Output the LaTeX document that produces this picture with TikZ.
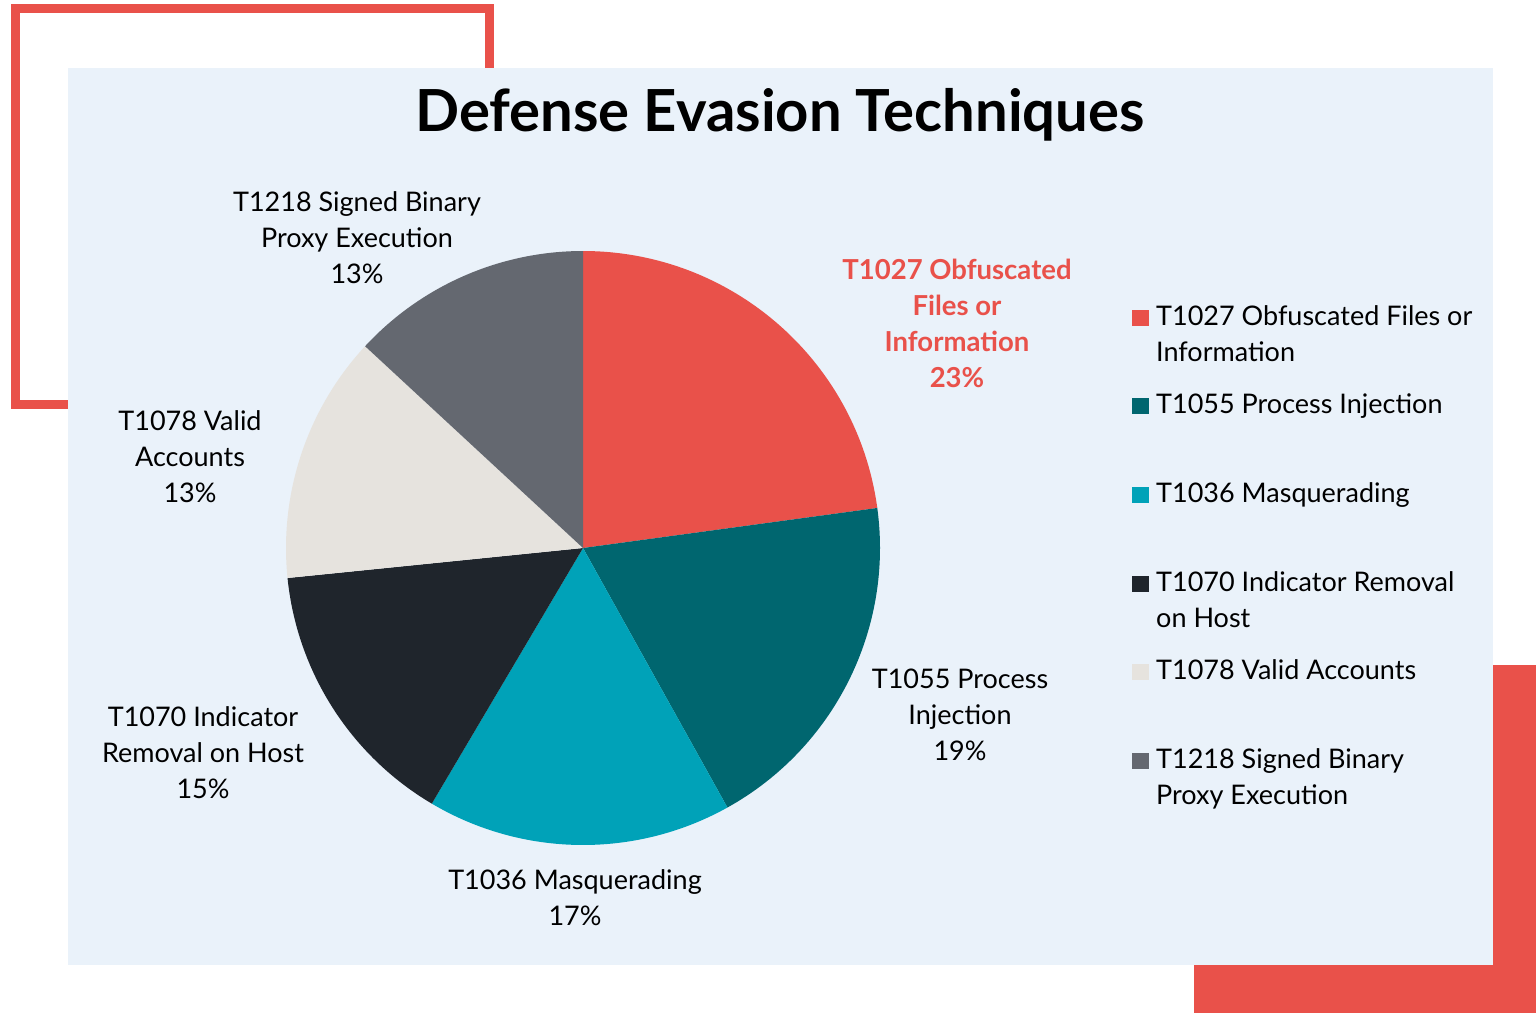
\documentclass[tikz,border=0pt]{standalone}
\usepackage{fontspec}
\setmainfont{Lato}
\definecolor{brandred}{HTML}{E9514A}
\definecolor{panelbg}{HTML}{EAF2FA}
\definecolor{cteal}{HTML}{00666F}
\definecolor{ccyan}{HTML}{00A2B8}
\definecolor{cdark}{HTML}{1F252C}
\definecolor{clight}{HTML}{E6E3DE}
\definecolor{cgray}{HTML}{646870}
\begin{document}
\begin{tikzpicture}[x=1pt,y=-1pt,
  lbl/.style={font=\fontsize{27}{36}\selectfont, align=center, anchor=base, inner sep=0pt, text=black},
  redlbl/.style={font=\fontsize{27.5}{36}\selectfont\bfseries, align=center, anchor=base, inner sep=0pt, text=brandred},
  legtext/.style={font=\fontsize{27}{36}\selectfont, align=left, anchor=base west, inner sep=0pt, text=black},
  legsq/.style={minimum width=17pt, minimum height=16pt, inner sep=0pt, anchor=south west}]
\useasboundingbox (0,0) rectangle (1536,1013);
\fill[white] (0,0) rectangle (1536,1013);
% decorative frames
\draw[brandred, line width=9pt] (15.5,8.5) rectangle (489.5,404.5);
\fill[brandred] (1194,665) rectangle (1536,1013);
\fill[panelbg] (68,68) rectangle (1493,965);
% title
\node[font=\fontsize{58}{66}\selectfont\bfseries, anchor=base, inner sep=0pt] (title) at (780,131) {Defense Evasion Techniques};
% pie
\coordinate (ctr) at (583,548);
\fill[brandred] (ctr) -- ++(90:297pt) arc[start angle=90, end angle=7.75, radius=297pt] -- cycle;
\fill[cteal] (ctr) -- ++(7.75:297pt) arc[start angle=7.75, end angle=-60.9, radius=297pt] -- cycle;
\fill[ccyan] (ctr) -- ++(-60.9:297pt) arc[start angle=-60.9, end angle=-120.6, radius=297pt] -- cycle;
\fill[cdark] (ctr) -- ++(-120.6:297pt) arc[start angle=-120.6, end angle=-174.2, radius=297pt] -- cycle;
\fill[clight] (ctr) -- ++(-174.2:297pt) arc[start angle=-174.2, end angle=-222.8, radius=297pt] -- cycle;
\fill[cgray] (ctr) -- ++(-222.8:297pt) arc[start angle=-222.8, end angle=-270, radius=297pt] -- cycle;
% slice labels (base anchor = baseline of last line)
\node[lbl] (l1218) at (357,283) {T1218 Signed Binary\\Proxy Execution\\13\%};
\node[lbl] (l1078) at (190,502) {T1078 Valid\\Accounts\\13\%};
\node[lbl] (l1070) at (203,798) {T1070 Indicator\\Removal on Host\\15\%};
\node[lbl] (l1036) at (575,925) {T1036 Masquerading\\17\%};
\node[lbl] (l1055) at (960,760) {T1055 Process\\Injection\\19\%};
\node[redlbl] (l1027) at (957,387) {T1027 Obfuscated\\Files or\\Information\\23\%};
% legend
\node[legsq, fill=brandred] (s1) at (1132,326) {};
\node[legtext] (t1) at (1156,361) {T1027 Obfuscated Files or\\Information};
\node[legsq, fill=cteal] (s2) at (1132,414) {};
\node[legtext] (t2) at (1156,413) {T1055 Process Injection};
\node[legsq, fill=ccyan] (s3) at (1132,503) {};
\node[legtext] (t3) at (1156,502) {T1036 Masquerading};
\node[legsq, fill=cdark] (s4) at (1132,592) {};
\node[legtext] (t4) at (1156,627) {T1070 Indicator Removal\\on Host};
\node[legsq, fill=clight] (s5) at (1132,680) {};
\node[legtext] (t5) at (1156,679) {T1078 Valid Accounts};
\node[legsq, fill=cgray] (s6) at (1132,769) {};
\node[legtext] (t6) at (1156,804) {T1218 Signed Binary\\Proxy Execution};
\end{tikzpicture}
\end{document}
